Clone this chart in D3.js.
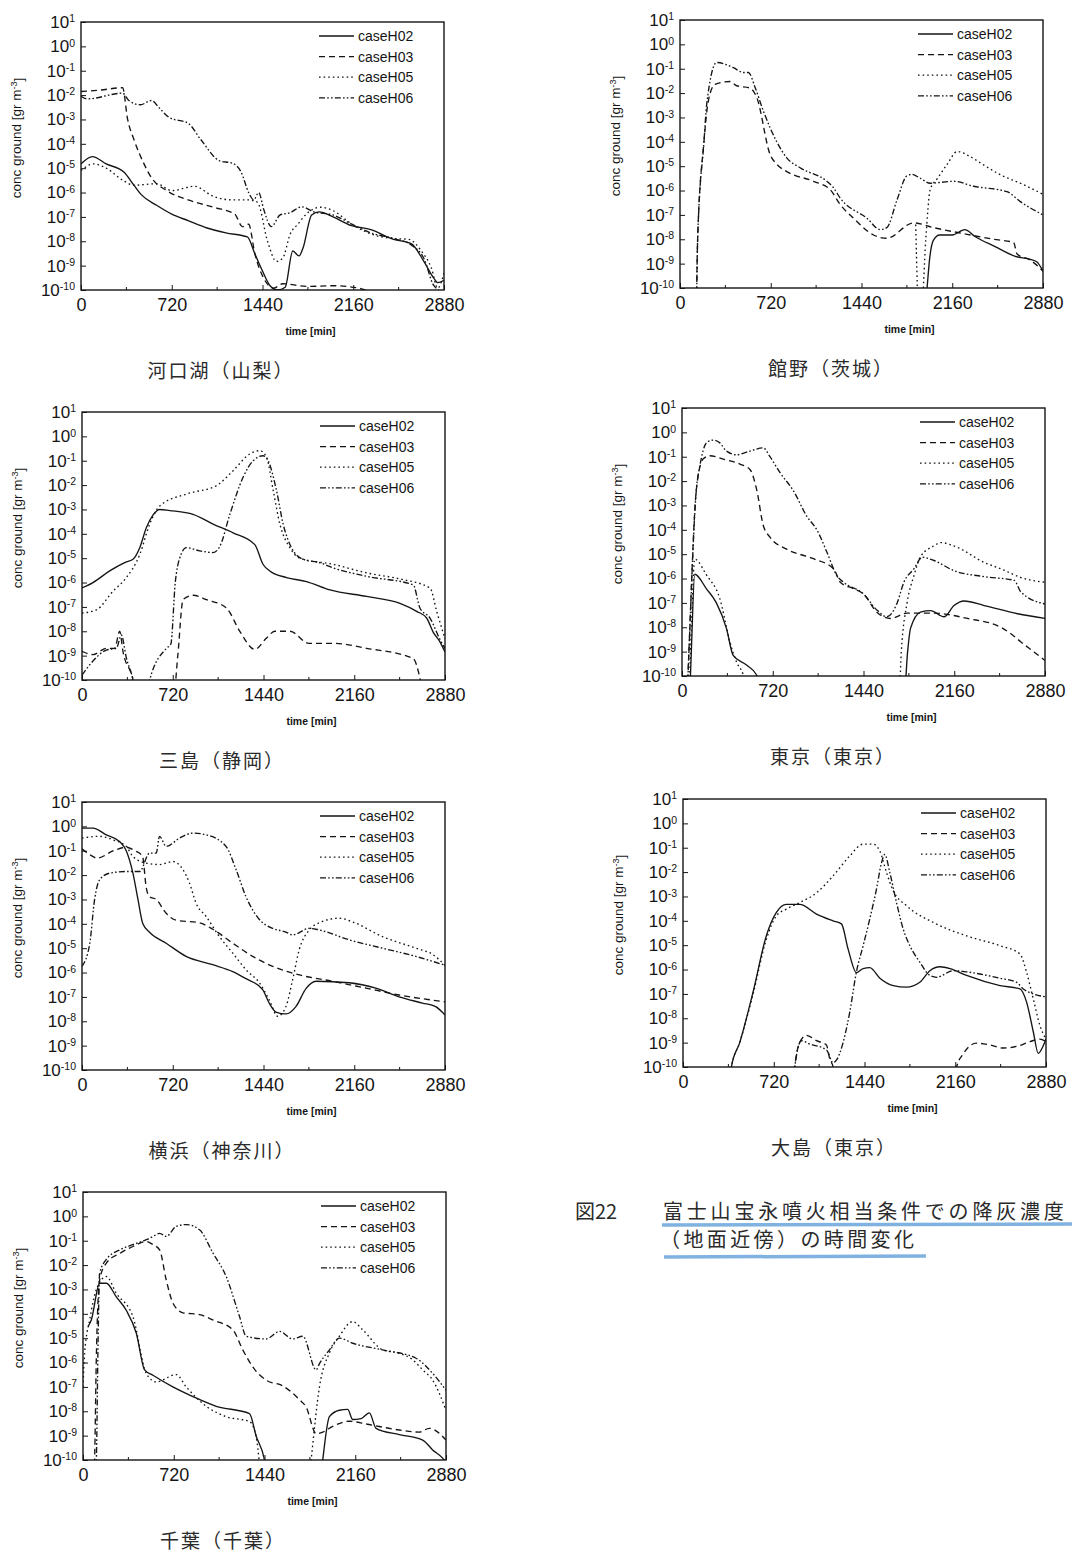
<!DOCTYPE html>
<html>
<head>
<meta charset="utf-8">
<title>降灰濃度の時間変化</title>
<script src="https://d3js.org/d3.v7.min.js"></script>
<style>
body { margin:0; background:#fff; }
svg text { font-family: "Liberation Sans", Arial, sans-serif; fill:#151515; }
.cap { font-family: "Noto Sans CJK JP", sans-serif; fill:#2a2a2a; }
.frame { fill:none; stroke:#151515; stroke-width:1.4px; }
.series { fill:none; stroke:#151515; stroke-width:1.35px; stroke-linejoin:round; }
.tick line { stroke:#151515; }
</style>
</head>
<body>
<script>
// 凡例・軸
var caseNames = ["caseH02", "caseH03", "caseH05", "caseH06"];
var stations = ["河口湖（山梨）", "館野（茨城）", "三島（静岡）", "東京（東京）", "横浜（神奈川）", "大島（東京）", "千葉（千葉）"];
var xTicks = [0, 720, 1440, 2160, 2880];
var xMinor = [360, 1080, 1800, 2520];
var yTicks = [1e-10, 1e-9, 1e-8, 1e-7, 1e-6, 1e-5, 1e-4, 1e-3, 1e-2, 1e-1, 1, 10];

// [time(min), conc(gr m-3)]  1e-11 = 下限以下
var kawaguchikoH02 = [[0,1.5e-5],[90,3e-5],[200,1.5e-5],[340,7e-6],[420,2e-6],[480,8e-7],[600,3e-7],[720,1.3e-7],[850,7e-8],[1000,3.5e-8],[1150,2.2e-8],[1320,1.5e-8],[1380,3e-9],[1440,6e-10],[1500,1.5e-10],[1560,1e-10],[1620,1.3e-10],[1680,4e-9],[1730,2.5e-9],[1760,5e-9],[1830,1.2e-7],[1890,1.6e-7],[2000,1e-7],[2140,4.5e-8],[2300,3e-8],[2480,1.2e-8],[2620,8e-9],[2720,1.5e-9],[2800,3e-10],[2830,2e-10],[2880,2.5e-10]];
var kawaguchikoH03 = [[0,1.4e-2],[150,1.6e-2],[330,2e-2],[370,1e-3],[420,1.5e-4],[500,1.5e-5],[560,4e-6],[680,1.2e-6],[850,5e-7],[1050,2.5e-7],[1220,1.3e-7],[1280,4e-8],[1330,5e-8],[1380,3e-9],[1450,3e-10],[1530,1.2e-10],[1600,1.8e-10],[1800,1.4e-10],[2000,1.5e-10],[2200,1.2e-10],[2300,9e-11],[2880,7e-11]];
var kawaguchikoH05 = [[0,8e-6],[100,1.5e-5],[200,1e-5],[340,3e-6],[420,2e-6],[600,2.3e-6],[720,1.2e-6],[900,1.8e-6],[1050,7e-7],[1200,5e-7],[1330,5e-7],[1400,4e-7],[1480,1e-8],[1550,1.5e-9],[1600,2e-9],[1660,2e-8],[1720,5e-8],[1800,1.5e-7],[1900,2.5e-7],[2000,1.8e-7],[2150,5e-8],[2300,2e-8],[2480,1.3e-8],[2600,1.2e-8],[2700,4e-9],[2780,8e-10],[2830,1.2e-10],[2880,5e-10]];
var kawaguchikoH06 = [[0,9e-3],[50,7e-3],[330,1.2e-2],[380,6e-3],[470,4e-3],[560,6e-3],[620,3e-3],[700,1.2e-3],[850,7e-4],[950,1.5e-4],[1100,2e-5],[1200,1.6e-5],[1270,7e-6],[1330,1e-6],[1370,5e-7],[1410,1e-6],[1450,2e-7],[1510,4e-8],[1580,1.2e-7],[1660,1.5e-7],[1750,2.6e-7],[1850,1.6e-7],[2000,1.2e-7],[2150,5e-8],[2300,2.2e-8],[2480,1.3e-8],[2620,7e-9],[2720,2e-9],[2800,1.5e-10],[2880,8e-11]];

var tatenoH02 = [[1940,1e-11],[1960,1e-10],[1980,1.5e-9],[2010,9e-9],[2060,1.5e-8],[2160,1.5e-8],[2260,2.5e-8],[2340,1.3e-8],[2500,5e-9],[2660,2e-9],[2780,1.5e-9],[2830,1.2e-9],[2880,5e-10]];
var tatenoH03 = [[130,1e-11],[140,1e-8],[190,1e-4],[225,4.8e-3],[278,2.3e-2],[397,3e-2],[450,2e-2],[556,1.6e-2],[609,6.6e-3],[715,3e-5],[768,1.2e-5],[847,6e-6],[1059,2.4e-6],[1191,1.1e-6],[1270,2.7e-7],[1376,7.4e-8],[1535,1.5e-8],[1641,1.1e-8],[1853,4.7e-8],[2012,3e-8],[2277,1.6e-8],[2488,1e-8],[2647,7.4e-9],[2674,2.5e-9],[2779,1.4e-9],[2880,4.9e-10]];
var tatenoH05 = [[1870,4e-8],[1895,1e-11],[1915,1e-11],[1950,1e-8],[1985,1.1e-6],[2040,3e-6],[2120,1.2e-5],[2200,4e-5],[2300,2.5e-5],[2400,1.2e-5],[2540,4.5e-6],[2720,1.8e-6],[2880,7e-7]];
var tatenoH06 = [[130,1e-11],[140,1e-8],[190,1e-4],[212,3.5e-3],[291,1.8e-1],[424,1.1e-1],[503,7e-2],[543,7e-2],[596,1.7e-2],[662,1.8e-3],[768,1e-4],[847,2.2e-5],[953,8.6e-6],[1165,2.4e-6],[1218,1.3e-6],[1270,5e-7],[1482,7.4e-8],[1588,2.5e-8],[1641,3e-8],[1721,4e-7],[1800,4e-6],[1840,4.6e-6],[1906,3.2e-6],[1985,2e-6],[2170,2.4e-6],[2330,1.5e-6],[2594,9e-7],[2700,3.5e-7],[2880,1e-7]];

var mishimaH02 = [[0,6e-7],[87,1e-6],[220,3e-6],[352,7e-6],[405,9e-6],[458,2.7e-5],[511,1.8e-4],[564,6e-4],[617,1e-3],[696,9e-4],[881,6.3e-4],[1040,2.5e-4],[1199,1.1e-4],[1371,3.6e-5],[1437,5.5e-6],[1490,3e-6],[1622,1.6e-6],[1781,1.1e-6],[1967,5e-7],[2258,2.7e-7],[2523,1.4e-7],[2655,6.6e-8],[2734,3.5e-8],[2787,9e-9],[2840,3.7e-9],[2880,1.4e-9]];
var mishimaH03 = [[0,1.5e-9],[87,1.1e-9],[193,2e-9],[259,2e-9],[299,1e-8],[325,1.5e-9],[405,1e-10],[440,1e-11],[720,1e-11],[760,1e-9],[802,2e-7],[881,3e-7],[987,2e-7],[1146,9e-8],[1252,1e-8],[1371,1.8e-9],[1460,5e-9],[1530,1e-8],[1650,1e-8],[1800,3.2e-9],[1993,3.2e-9],[2258,2e-9],[2628,7.6e-10],[2681,1.2e-10],[2720,1e-11]];
var mishimaH05 = [[0,5.6e-8],[114,7.6e-8],[246,4.4e-7],[352,1.6e-6],[458,1.4e-5],[537,2.5e-4],[617,1.4e-3],[828,4.3e-3],[1067,9.5e-3],[1199,3.9e-2],[1331,1.9e-1],[1411,2.6e-1],[1464,1.4e-1],[1517,6e-3],[1570,2.5e-4],[1649,2.7e-5],[1728,1e-5],[1993,5.6e-6],[2258,2.5e-6],[2523,1.4e-6],[2761,6e-7],[2814,6.6e-8],[2880,5e-9]];
var mishimaH06 = [[0,1.6e-10],[87,6e-10],[193,1.7e-9],[273,2e-9],[312,7e-9],[352,8e-10],[405,1e-10],[440,1e-11],[500,1e-11],[537,1e-10],[670,2e-9],[705,3e-9],[740,1e-6],[775,1e-5],[828,2.7e-5],[934,2e-5],[1040,1.7e-5],[1093,3e-5],[1173,6.3e-4],[1278,2.1e-2],[1358,1e-1],[1437,1.6e-1],[1477,1e-1],[1543,6e-3],[1596,2.5e-4],[1662,2.7e-5],[1755,9e-6],[1887,6.5e-6],[1993,4e-6],[2258,1.8e-6],[2628,8e-7],[2681,9e-8],[2761,3.5e-8],[2840,4.6e-9],[2880,2e-9]];

var tokyoH02 = [[60,1e-11],[74,1e-9],[101,1.5e-6],[194,3.8e-7],[273,1e-7],[353,8.8e-9],[406,7e-10],[512,2.8e-10],[592,1.1e-10],[620,1e-11],[1760,1e-11],[1790,1e-9],[1813,9e-9],[1893,4.2e-8],[1972,4.8e-8],[2079,2.7e-8],[2158,7.8e-8],[2238,1.2e-7],[2397,7.8e-8],[2663,3.6e-8],[2880,2.3e-8]];
var tokyoH03 = [[40,1e-11],[55,1e-9],[114,4.6e-3],[167,8e-2],[220,1.1e-1],[327,8e-2],[459,5e-2],[539,3e-2],[592,4.6e-3],[645,1.5e-4],[698,5e-5],[831,1.6e-5],[1043,6.5e-6],[1203,2.5e-6],[1256,7e-7],[1362,3.8e-7],[1441,2.3e-7],[1548,4e-8],[1654,2.3e-8],[1787,3.8e-8],[2000,3.8e-8],[2265,2.3e-8],[2530,1e-8],[2610,5.4e-9],[2689,2.5e-9],[2795,9.5e-10],[2880,4.3e-10]];
var tokyoH05 = [[55,1e-11],[75,1e-8],[101,6.3e-6],[194,1.4e-6],[300,1.5e-7],[380,2.5e-9],[433,3.7e-10],[486,1.1e-10],[530,1e-11],[1720,1e-11],[1740,1e-9],[1787,1.1e-7],[1840,1.3e-6],[1893,8e-6],[1999,2.2e-5],[2052,3e-5],[2185,1.9e-5],[2397,4.6e-6],[2530,2.5e-6],[2689,1.1e-6],[2880,7e-7]];
var tokyoH06 = [[40,1e-11],[55,1e-9],[114,4.6e-3],[141,4e-2],[194,3.7e-1],[247,4.8e-1],[300,3.7e-1],[353,1.7e-1],[433,1.2e-1],[539,1.7e-1],[645,2.3e-1],[698,1e-1],[778,2.2e-2],[884,4e-3],[990,3.6e-4],[1070,1e-4],[1150,1.2e-5],[1229,1.3e-6],[1282,7e-7],[1441,2.3e-7],[1548,5e-8],[1627,2.7e-8],[1707,1e-7],[1760,7e-7],[1840,2.5e-6],[1906,7.5e-6],[1999,5.5e-6],[2158,2.1e-6],[2397,1.2e-6],[2636,8.4e-7],[2689,2.8e-7],[2880,9e-8]];

var yokohamaH02 = [[0,0.85],[87,0.85],[193,0.45],[298,0.24],[351,0.1],[404,1.2e-2],[444,1e-3],[483,1e-4],[536,4.5e-5],[668,1.6e-5],[826,4.6e-6],[1037,2.1e-6],[1196,1.1e-6],[1301,5.6e-7],[1433,2e-7],[1486,5.5e-8],[1539,2.4e-8],[1618,2e-8],[1697,4e-8],[1777,2.2e-7],[1856,4.4e-7],[2120,3.8e-7],[2331,2.3e-7],[2516,1e-7],[2701,5.6e-8],[2806,4e-8],[2880,1.8e-8]];
var yokohamaH03 = [[0,1.2e-1],[60,7e-2],[120,5e-2],[250,1e-1],[350,1.4e-1],[420,1e-1],[480,6e-2],[510,3e-3],[536,1.3e-3],[589,1e-3],[668,2.7e-4],[747,1.4e-4],[932,1.1e-4],[1037,6e-5],[1196,1.6e-5],[1354,4.6e-6],[1513,1.8e-6],[1724,8e-7],[1988,4.4e-7],[2252,2.3e-7],[2516,1.2e-7],[2880,6.3e-8]];
var yokohamaH05 = [[0,0.33],[140,0.39],[246,0.28],[351,0.15],[404,5.8e-2],[510,3.1e-2],[615,2.7e-2],[721,3.6e-2],[800,1.7e-2],[853,4.7e-3],[905,7e-4],[985,2e-4],[1090,3e-5],[1196,6.3e-6],[1301,1.3e-6],[1407,3.8e-7],[1486,7.5e-8],[1552,1.6e-8],[1618,4e-8],[1671,5e-7],[1724,8.8e-6],[1803,5.6e-5],[1882,1.1e-4],[2041,1.7e-4],[2146,1.2e-4],[2384,3e-5],[2648,1e-5],[2780,5.6e-6],[2880,2e-6]];
var yokohamaH06 = [[0,1.8e-6],[61,1.5e-5],[100,1e-3],[140,6.4e-3],[219,1.2e-2],[351,1.4e-2],[457,1.4e-2],[536,8e-2],[589,8e-2],[615,0.39],[668,0.15],[774,0.33],[879,0.53],[985,0.45],[1143,0.15],[1222,1.7e-2],[1301,1.3e-3],[1407,1.5e-4],[1513,6.5e-5],[1618,4.6e-5],[1671,3.5e-5],[1803,6.5e-5],[1882,5.6e-5],[2120,2.2e-5],[2384,1e-5],[2648,4.6e-6],[2880,2e-6]];

var oshimaH02 = [[370,1e-11],[384,1e-10],[450,1e-9],[556,1.2e-7],[662,2.5e-5],[741,2.2e-4],[820,4.7e-4],[926,4.7e-4],[1059,1.9e-4],[1191,1e-4],[1257,7.5e-5],[1310,6.9e-6],[1376,7.5e-7],[1429,1.1e-6],[1482,1.2e-6],[1562,4.4e-7],[1668,2.2e-7],[1773,1.9e-7],[1879,3e-7],[1959,9e-7],[2038,1.3e-6],[2118,1.1e-6],[2250,5.7e-7],[2515,2.2e-7],[2673,1.6e-7],[2726,4.6e-8],[2779,2.8e-9],[2819,3.6e-10],[2859,7.6e-10],[2880,1.4e-9]];
var oshimaH03 = [[870,1e-11],[887,1e-10],[926,1e-9],[979,2e-9],[1059,1.2e-9],[1138,8e-10],[1165,2.1e-10],[1191,1e-10],[1210,1e-11],[2150,1e-11],[2171,1e-10],[2224,3.5e-10],[2329,9.5e-10],[2435,8e-10],[2541,6e-10],[2647,7e-10],[2753,1.1e-9],[2832,1.4e-9],[2880,1.1e-9]];
var oshimaH05 = [[370,1e-11],[384,1e-10],[450,1e-9],[556,1e-7],[662,1.8e-5],[741,1.6e-4],[820,3e-4],[926,5.6e-4],[1059,1.4e-3],[1191,7e-3],[1323,4.6e-2],[1429,1.4e-1],[1509,1.4e-1],[1562,7.2e-2],[1615,9.5e-3],[1668,1.7e-3],[1773,4.2e-4],[1985,8.6e-5],[2250,2.4e-5],[2515,9.5e-6],[2673,4.4e-6],[2726,7.7e-7],[2779,6.3e-8],[2832,5e-9],[2880,1.4e-9]];
var oshimaH06 = [[870,1e-11],[887,1e-10],[940,1.2e-9],[1000,9e-10],[1138,5e-10],[1191,1.5e-10],[1220,2e-10],[1270,1e-9],[1323,1.8e-8],[1376,8e-7],[1429,9.5e-6],[1482,1.2e-4],[1535,2e-3],[1575,2.4e-2],[1601,5.3e-2],[1641,9.5e-3],[1694,5.6e-4],[1747,4.6e-5],[1800,9.5e-6],[1879,2e-6],[1959,5.7e-7],[2012,4.8e-7],[2144,9e-7],[2250,8e-7],[2515,4.4e-7],[2647,3e-7],[2700,1.6e-7],[2880,7.5e-8]];

var chibaH02 = [[40,3e-5],[66,5.6e-5],[132,1.8e-3],[185,1.8e-3],[264,5e-4],[343,1.4e-4],[423,1.6e-5],[489,5e-7],[555,3e-7],[713,1e-7],[872,4e-8],[1057,1.6e-8],[1321,8e-9],[1374,9.5e-10],[1440,1e-10],[1470,1e-11],[1880,1e-11],[1902,1e-10],[1955,6e-9],[2034,1.1e-8],[2100,1.2e-8],[2140,4.6e-9],[2206,5e-9],[2272,8.6e-9],[2325,2e-9],[2510,1.1e-9],[2695,6.6e-10],[2774,2.6e-10],[2853,1.2e-10],[2880,8e-11]];
var chibaH03 = [[80,1e-11],[92,1e-10],[105,1e-6],[132,2.5e-3],[185,1.2e-2],[291,3e-2],[396,5.8e-2],[502,9.3e-2],[555,6.9e-2],[608,4.2e-2],[660,2.5e-3],[713,2.8e-4],[793,1.1e-4],[925,9.3e-5],[1030,5.6e-5],[1189,2.2e-5],[1268,3.3e-6],[1347,6.6e-7],[1453,1.9e-7],[1585,1.1e-7],[1717,3e-8],[1770,1.5e-8],[1850,1.2e-9],[1902,1.4e-9],[1981,2.4e-9],[2113,3.9e-9],[2246,3e-9],[2510,1.7e-9],[2668,1.4e-9],[2748,2e-9],[2880,6.6e-10]];
var chibaH05 = [[0,1e-7],[13,2.5e-6],[53,5.6e-5],[106,1e-3],[185,3.4e-3],[264,7e-4],[396,7.7e-5],[502,3.6e-7],[581,1.6e-7],[740,3.2e-7],[819,1e-7],[978,1.6e-8],[1136,6e-9],[1321,3.8e-9],[1374,9e-10],[1427,1e-11],[1790,1e-11],[1810,1e-10],[1876,1e-7],[1955,2.5e-6],[2034,1.2e-5],[2140,4.8e-5],[2219,2.2e-5],[2378,3.3e-6],[2510,2.4e-6],[2616,1.3e-6],[2695,5e-7],[2774,1.9e-7],[2880,1.1e-8]];
var chibaH06 = [[95,1e-11],[106,1e-10],[120,1e-5],[132,4.7e-3],[185,1.7e-2],[291,4.2e-2],[396,6.9e-2],[502,1.1e-1],[555,1.5e-1],[608,2e-1],[660,1.5e-1],[740,3.9e-1],[819,4.6e-1],[925,2.8e-1],[1030,3.2e-2],[1136,3.4e-3],[1242,7.7e-5],[1295,1.2e-5],[1453,9.3e-6],[1559,1.9e-5],[1664,9.3e-6],[1744,1.2e-5],[1850,5e-7],[1876,9e-7],[1955,3.3e-6],[2034,1e-5],[2140,6.2e-6],[2378,3.3e-6],[2642,1.5e-6],[2774,3.6e-7],[2880,7.3e-8]];

var panelData = [
  [kawaguchikoH02, kawaguchikoH03, kawaguchikoH05, kawaguchikoH06],
  [tatenoH02, tatenoH03, tatenoH05, tatenoH06],
  [mishimaH02, mishimaH03, mishimaH05, mishimaH06],
  [tokyoH02, tokyoH03, tokyoH05, tokyoH06],
  [yokohamaH02, yokohamaH03, yokohamaH05, yokohamaH06],
  [oshimaH02, oshimaH03, oshimaH05, oshimaH06],
  [chibaH02, chibaH03, chibaH05, chibaH06]
];

var width = 1072, height = 1558;
var pw = 363, ph = 268;
var pos = [[81,22],[680,20],[82,412],[682,408],[82,802],[683,799],[83,1192]];
var dashes = [null, "6,4", "1.6,3", "6,2.2,1.6,2.2,1.6,2.2"];

var svg = d3.select("body").append("svg")
    .attr("width", width)
    .attr("height", height);

var x = d3.scaleLinear().domain([0, 2880]).range([0, pw]);
var y = d3.scaleLog().domain([1e-10, 10]).range([ph, 0]);
var line = d3.line()
    .x(function(d) { return x(d[0]); })
    .y(function(d) { return y(d[1]); })
    .curve(d3.curveMonotoneX);

panelData.forEach(function(series, i) {
    var g = svg.append("g").attr("transform", "translate(" + pos[i][0] + "," + pos[i][1] + ")");

    g.append("clipPath").attr("id", "clip" + i)
      .append("rect").attr("width", pw).attr("height", ph);

    // x axis
    g.append("g")
        .attr("transform", "translate(0," + ph + ")")
        .call(d3.axisBottom(x).tickValues(xTicks).tickFormat(d3.format("d"))
              .tickSizeInner(-5).tickSizeOuter(0).tickPadding(8))
        .call(function(a) {
            a.select(".domain").remove();
            a.selectAll(".tick text").attr("font-size", 18).attr("fill", "#151515");
        });
    g.selectAll(".xminor").data(xMinor).enter().append("line")
        .attr("x1", function(d) { return x(d); }).attr("x2", function(d) { return x(d); })
        .attr("y1", ph).attr("y2", ph - 3)
        .attr("stroke", "#151515");

    // y axis
    g.append("g")
        .call(d3.axisLeft(y).tickValues(yTicks).tickSizeInner(-5).tickSizeOuter(0).tickPadding(6).tickFormat(function() { return ""; }))
        .call(function(a) {
            a.select(".domain").remove();
            a.selectAll(".tick text").attr("font-size", 17).attr("fill", "#151515").each(function(d) {
                var t = d3.select(this);
                t.append("tspan").text("10");
                t.append("tspan").attr("dy", "-0.55em").attr("font-size", 10.5).text(Math.round(Math.log10(d)));
            });
        });

    g.append("text")
        .attr("transform", "translate(-60," + (ph / 2 - 18) + ") rotate(-90)")
        .attr("text-anchor", "middle")
        .attr("font-size", 13.5)
        .text("conc ground [gr m")
      .append("tspan").attr("dy", "-0.5em").attr("font-size", 9).text("-3")
      .select(function() { return this.parentNode; })
      .append("tspan").attr("dy", "0.5em").text("]");

    g.append("text")
        .attr("x", pw / 2 + 48).attr("y", ph + 45)
        .attr("text-anchor", "middle")
        .attr("font-size", 10.5).attr("font-weight", "bold")
        .text("time [min]");

    // curves
    g.append("g").attr("clip-path", "url(#clip" + i + ")")
      .selectAll("path").data(series).enter().append("path")
        .attr("class", "series")
        .attr("stroke-dasharray", function(d, k) { return dashes[k]; })
        .attr("d", line);

    g.append("rect").attr("class", "frame").attr("width", pw).attr("height", ph);

    // legend
    var lg = g.append("g").attr("transform", "translate(238,14)");
    caseNames.forEach(function(c, k) {
        lg.append("line")
            .attr("x1", 0).attr("x2", 35).attr("y1", k * 20.6).attr("y2", k * 20.6)
            .attr("stroke", "#151515").attr("stroke-width", 1.3)
            .attr("stroke-dasharray", dashes[k]);
        lg.append("text")
            .attr("x", 39).attr("y", k * 20.6).attr("dy", "0.36em")
            .attr("font-size", 14)
            .text(c);
    });

    // station caption
    g.append("text")
        .attr("class", "cap")
        .attr("x", i % 2 === 0 ? 140 : 151).attr("y", 356)
        .attr("text-anchor", "middle")
        .attr("font-size", 19).attr("letter-spacing", 2)
        .text(stations[i]);
});

// figure caption
svg.append("path")
    .attr("d", "M662,1225 L1072,1224")
    .attr("stroke", "#5f9fd8").attr("stroke-width", 3.5).attr("opacity", 0.8).attr("fill", "none");
svg.append("path")
    .attr("d", "M664,1257 L926,1256")
    .attr("stroke", "#5f9fd8").attr("stroke-width", 3.5).attr("opacity", 0.8).attr("fill", "none");
svg.append("text").attr("class", "cap")
    .attr("x", 575).attr("y", 1219).attr("font-size", 20)
    .text("図22");
svg.append("text").attr("class", "cap")
    .attr("x", 663).attr("y", 1219).attr("font-size", 20).attr("letter-spacing", 3.8)
    .text("富士山宝永噴火相当条件での降灰濃度");
svg.append("text").attr("class", "cap")
    .attr("x", 660).attr("y", 1247).attr("font-size", 20).attr("letter-spacing", 3.4)
    .text("（地面近傍）の時間変化");
</script>
</body>
</html>
